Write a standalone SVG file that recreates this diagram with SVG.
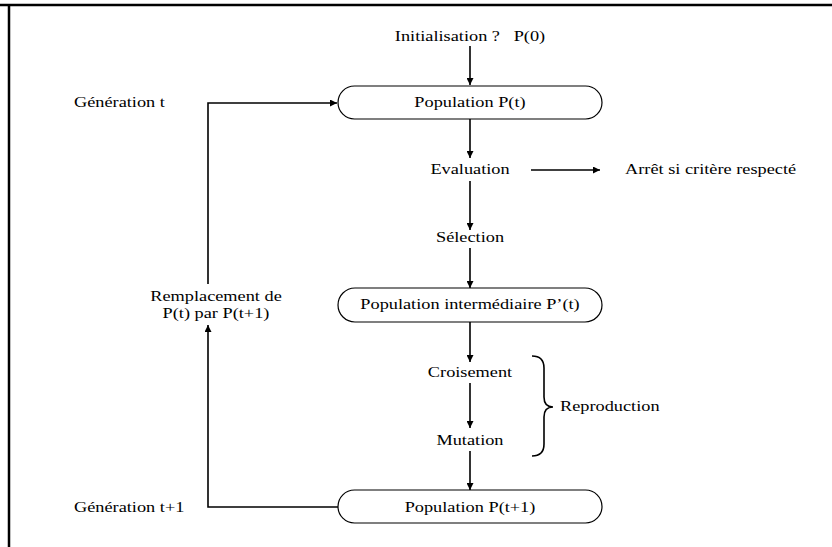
<svg xmlns="http://www.w3.org/2000/svg" width="832" height="547" viewBox="0 0 832 547">
<defs>
<marker id="ah" markerWidth="7" markerHeight="7" refX="7" refY="3.5" orient="auto" markerUnits="userSpaceOnUse">
<path d="M0,0 L7,3.5 L0,7 z" fill="#000"/>
</marker>
<style>
text{font-family:"Liberation Serif","Times New Roman",serif;font-size:15px;fill:#000}
.m{text-anchor:middle}
.pill{fill:#fff;stroke:#000;stroke-width:1.2}
.c{fill:none;stroke:#000;stroke-width:1.6}
.a{marker-end:url(#ah)}
</style>
</defs>
<rect width="832" height="547" fill="#fff"/>
<g id="frame" fill="none" stroke="#000" stroke-width="2.5">
<path d="M0,5 H832"/>
<path d="M9,5 V547"/>
</g>
<g id="connectors">
<path class="c a" d="M470,46 V85"/>
<path class="c a" d="M470,119 V158"/>
<path class="c a" d="M531,170 H600"/>
<path class="c a" d="M470,181 V230"/>
<path class="c a" d="M470,248 V288"/>
<path class="c a" d="M470,322 V362"/>
<path class="c a" d="M470,383 V428"/>
<path class="c a" d="M470,451 V490"/>
<path class="c a" d="M208,284 V103 H337"/>
<path class="c a" d="M338,507 H208 V325"/>
</g>
<g id="init"><text class="m" transform="translate(470,41) scale(1.22,1)" style="white-space:pre">Initialisation ?   P(0)</text></g>
<g id="pop-t">
<rect class="pill" x="338" y="86" width="264" height="33" rx="16.5"/>
<text class="m" transform="translate(470,107) scale(1.22,1)">Population P(t)</text>
</g>
<g id="gen-t"><text transform="translate(74,107) scale(1.22,1)">Génération t</text></g>
<g id="evaluation"><text class="m" transform="translate(470,174) scale(1.22,1)">Evaluation</text></g>
<g id="arret"><text transform="translate(625,174) scale(1.22,1)">Arrêt si critère respecté</text></g>
<g id="selection"><text class="m" transform="translate(470,242) scale(1.22,1)">Sélection</text></g>
<g id="pop-inter">
<rect class="pill" x="338" y="288" width="264" height="34" rx="17"/>
<text class="m" transform="translate(470,309) scale(1.22,1)">Population intermédiaire P’(t)</text>
</g>
<g id="remplacement">
<text class="m" transform="translate(216,301) scale(1.22,1)">Remplacement de</text>
<text class="m" transform="translate(216,318) scale(1.22,1)">P(t) par P(t+1)</text>
</g>
<g id="croisement"><text class="m" transform="translate(470,377) scale(1.22,1)">Croisement</text></g>
<g id="mutation"><text class="m" transform="translate(470,445) scale(1.22,1)">Mutation</text></g>
<g id="reproduction">
<path class="c" d="M532,356 Q544,356 544,368 V397 Q544,407 553,407 Q544,407 544,417 V444 Q544,456 532,456"/>
<text transform="translate(560,411) scale(1.22,1)">Reproduction</text>
</g>
<g id="pop-t1">
<rect class="pill" x="338" y="490" width="264" height="33" rx="16.5"/>
<text class="m" transform="translate(470,512) scale(1.22,1)">Population P(t+1)</text>
</g>
<g id="gen-t1"><text transform="translate(74,512) scale(1.22,1)">Génération t+1</text></g>
</svg>
